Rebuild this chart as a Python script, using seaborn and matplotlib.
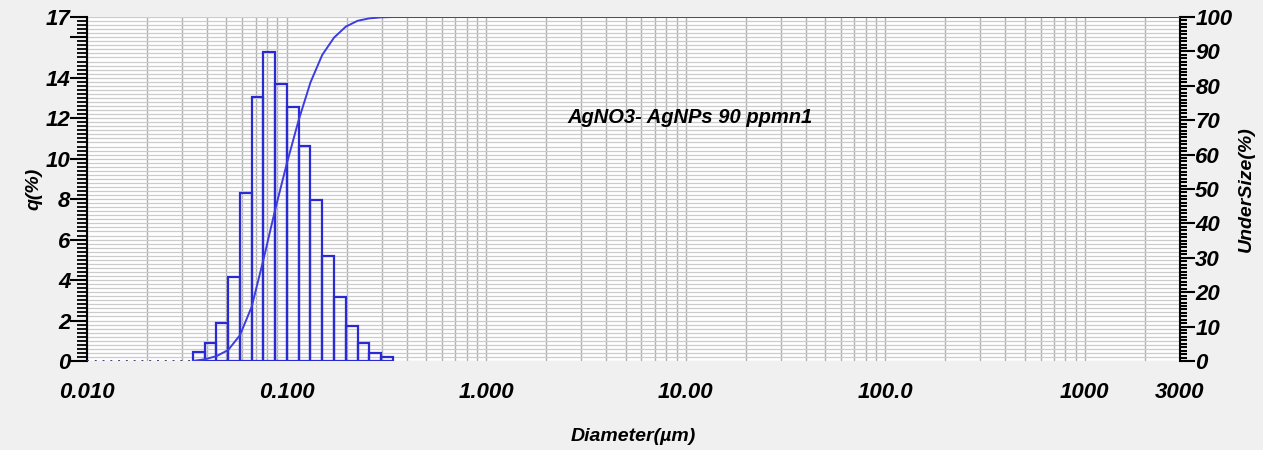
import numpy as np
import pandas as pd
import matplotlib
matplotlib.use("Agg")
import matplotlib.pyplot as plt
import seaborn as sns
from matplotlib.ticker import FixedLocator, FixedFormatter, LogLocator, MultipleLocator, NullFormatter

# ---------------- data ----------------
bin_edges = [0.0339, 0.0389, 0.0445, 0.0510, 0.0584, 0.0669, 0.0766, 0.0877, 0.1005,
             0.1151, 0.1318, 0.1510, 0.1729, 0.1981, 0.2269, 0.2599, 0.2976, 0.3409]
q_percent = [0.45, 0.88, 1.89, 4.15, 8.30, 13.03, 15.27, 13.70, 12.53,
             10.62, 7.95, 5.20, 3.16, 1.74, 0.88, 0.40, 0.21]
zero_edges = [0.0100, 0.0115, 0.0131, 0.0150, 0.0172, 0.0197, 0.0226, 0.0259, 0.0296, 0.0339]
zero_q = [0, 0, 0, 0, 0, 0, 0, 0, 0, 0]
curve_d = [0.0339, 0.0389, 0.0445, 0.0510, 0.0584, 0.0669, 0.0766, 0.0877, 0.1005,
           0.1151, 0.1318, 0.1510, 0.1729, 0.1981, 0.2269, 0.2599, 0.2976, 0.3409, 0.40, 3000]
undersize = [0, 0.5, 1.4, 3.2, 7.5, 15.8, 29.5, 44.0, 57.6,
             70.1, 81.0, 89.0, 94.0, 97.2, 98.9, 99.6, 99.9, 100, 100, 100]
x_ticks = [0.01, 0.1, 1, 10, 100, 1000, 3000]
x_ticklabels = ["0.010", "0.100", "1.000", "10.00", "100.0", "1000", "3000"]
y_ticks = [0, 2, 4, 6, 8, 10, 12, 14, 16, 17]
y_ticklabels = ["0", "2", "4", "6", "8", "10", "12", "14", "", "17"]
y2_ticks = [0, 10, 20, 30, 40, 50, 60, 70, 80, 90, 100]
sample_label = "AgNO3- AgNPs 90 ppmn1"

# ---------------- style ----------------
sns.set_style("white")
plt.rcParams["font.family"] = ["Liberation Sans", "DejaVu Sans"]
plt.rcParams["font.weight"] = "bold"
plt.rcParams["font.style"] = "italic"
plt.rcParams["axes.labelweight"] = "bold"
plt.rcParams["axes.labelcolor"] = "black"
plt.rcParams["text.color"] = "black"
plt.rcParams["xtick.color"] = "black"
plt.rcParams["ytick.color"] = "black"

BLUE = "#2a2ad2"
fig = plt.figure(figsize=(12.63, 4.5), dpi=100, facecolor="#f0f0f0")
ax = fig.add_axes([87 / 1263, 1 - 361 / 450, (1180 - 87) / 1263, (361 - 17) / 450])
ax.set_facecolor("white")
ax.set_xscale("log")
ax.set_xlim(0.01, 3000)
ax.set_ylim(0, 17)

# histogram bars
widths = np.diff(bin_edges)
ax.bar(bin_edges[:-1], q_percent, width=widths, align="edge", fill=False,
       edgecolor=BLUE, linewidth=1.6, zorder=3)
ax.plot(zero_edges, zero_q, ls=(0, (1, 3)), color="#404080", lw=1.4, zorder=3)

# cumulative curve on right axis
ax2 = ax.twinx()
ax2.set_ylim(0, 100)
curve_df = pd.DataFrame({"Diameter": curve_d, "UnderSize": undersize})
sns.lineplot(data=curve_df, x="Diameter", y="UnderSize", ax=ax2, color="#3c3ce0",
             lw=1.4, zorder=4)
ax2.set_xlim(0.01, 3000)

# ticks / grid (set after twin so the shared x axis keeps them)
ax.xaxis.set_major_locator(FixedLocator(x_ticks))
ax.xaxis.set_major_formatter(FixedFormatter(x_ticklabels))
ax.xaxis.set_minor_locator(LogLocator(base=10, subs=range(2, 10), numticks=50))
ax.xaxis.set_minor_formatter(NullFormatter())
ax.yaxis.set_major_locator(FixedLocator(y_ticks))
ax.yaxis.set_major_formatter(FixedFormatter(y_ticklabels))
ax.yaxis.set_minor_locator(MultipleLocator(0.2))
ax.grid(which="both", axis="x", color="#b0b0b0", lw=1.0, zorder=0)
ax.grid(which="both", axis="y", color="#cccccc", lw=0.9, zorder=0)
ax.set_axisbelow(True)

for s in ["top", "bottom", "right"]:
    ax.spines[s].set_visible(False)
ax.spines["left"].set_color("black")
ax.spines["left"].set_linewidth(1.5)

ax.tick_params(axis="y", which="major", direction="out", length=12, width=1.5,
               color="black", labelsize=16, pad=0)
ax.tick_params(axis="y", which="minor", direction="out", length=7, width=1.3, color="black")
ax.tick_params(axis="x", which="major", direction="out", length=14, width=1.0,
               color="#333333", labelsize=16, pad=1)
ax.tick_params(axis="x", which="minor", direction="out", length=7, width=1.0, color="#333333")

ax.set_xlabel("Diameter(µm)", fontsize=14, labelpad=18)
ax.set_ylabel("q(%)", fontsize=14, labelpad=2)

ax.text(0.552, 0.709, sample_label, transform=ax.transAxes, ha="center", va="center",
        fontsize=14.5, color="black", zorder=5)

ax2.yaxis.set_major_locator(FixedLocator(y2_ticks))
ax2.yaxis.set_minor_locator(MultipleLocator(1))
for s in ["top", "bottom", "left"]:
    ax2.spines[s].set_visible(False)
ax2.spines["right"].set_color("black")
ax2.spines["right"].set_linewidth(1.5)
ax2.tick_params(axis="y", which="major", direction="out", length=11, width=1.5,
                color="black", labelsize=16, pad=0, right=True)
ax2.tick_params(axis="y", which="minor", direction="out", length=5, width=1.5,
                color="black", right=True)
ax2.set_ylabel("UnderSize(%)", fontsize=14, labelpad=4)
ax2.set_xlabel("")
ax2.grid(False)

fig.savefig("out.png", dpi=100, facecolor=fig.get_facecolor())
